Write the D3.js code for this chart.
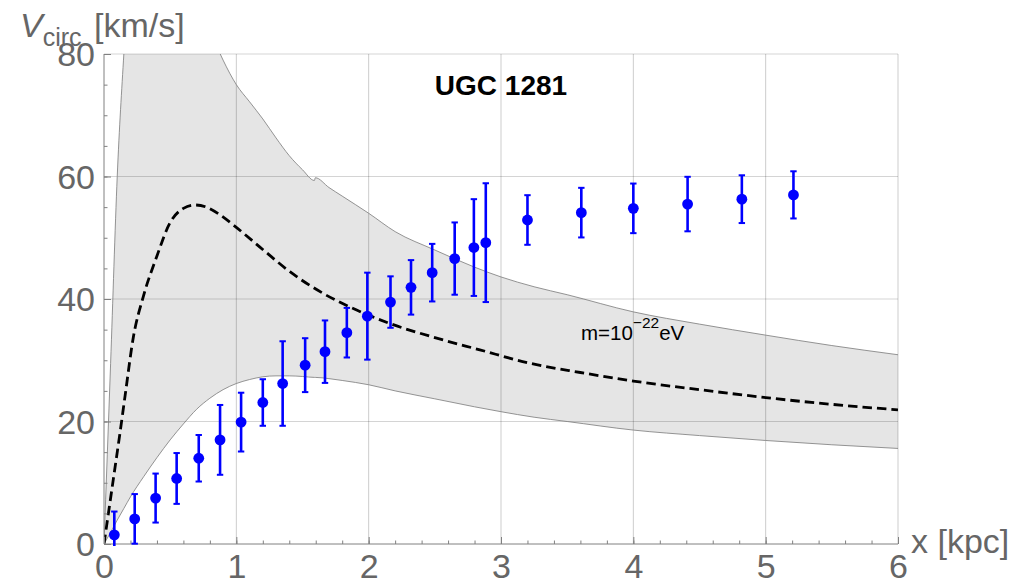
<!DOCTYPE html>
<html>
<head>
<meta charset="utf-8">
<script src="https://cdn.jsdelivr.net/npm/d3@7"></script>
<style>
  html, body { margin: 0; padding: 0; background: #fff; }
  svg { display: block; }
  text { font-family: "Liberation Sans", Arial, sans-serif; }
</style>
</head>
<body>
<svg id="chart" width="1017" height="585"></svg>
<script>
// Axis ticks
const X_TICKS = [0, 1, 2, 3, 4, 5, 6];
const Y_TICKS = [0, 20, 40, 60, 80];

// Observed rotation curve of UGC 1281: radius [kpc], velocity [km/s], error [km/s]
const obsR   = [0.078, 0.232, 0.39, 0.549, 0.716, 0.877, 1.036, 1.2, 1.35, 1.52, 1.67, 1.835, 1.99,
                2.165, 2.32, 2.48, 2.65, 2.795, 2.885, 3.2, 3.607, 4.0, 4.41, 4.82, 5.21];
const obsV   = [1.5, 4.1, 7.5, 10.7, 14.0, 17.0, 19.9, 23.1, 26.2, 29.2, 31.4, 34.5, 37.2,
                39.5, 41.9, 44.3, 46.6, 48.4, 49.2, 52.9, 54.1, 54.8, 55.5, 56.3, 57.0];
const obsErr = [3.8, 4.05, 4.0, 4.15, 3.8, 5.7, 4.8, 3.8, 6.9, 4.4, 5.1, 4.05, 7.1,
                4.2, 4.45, 4.7, 5.9, 7.9, 9.7, 4.05, 4.05, 4.05, 4.45, 3.9, 3.85];

// Soliton model curve for m = 1e-22 eV
const modelR = [0, 0.04, 0.08, 0.12, 0.16, 0.222, 0.297, 0.398, 0.498, 0.6, 0.686, 0.774, 0.88, 0.977,
                1.204, 1.405, 1.657, 1.909, 2.16, 2.5, 2.84, 3.22, 3.6, 4.0, 4.5, 5.0, 5.5, 6.0];
const modelV = [0, 6.0, 12.0, 18.0, 24.3, 33.8, 40.4, 46.9, 52.4, 54.8, 55.35, 55.0, 53.7, 52.1,
                48.0, 44.45, 40.9, 38.2, 36.0, 33.7, 31.7, 29.5, 28.0, 26.6, 25.2, 23.9, 22.8, 21.9];

// Uncertainty band around the model (upper and lower envelopes)
const bandR  = [0, 0.05, 0.1, 0.15, 0.2, 0.3, 0.4, 0.5, 0.6, 0.7, 0.8, 0.9, 1.0, 1.1, 1.2, 1.3, 1.4, 1.5,
                1.59, 1.597, 1.7, 1.8, 2.0, 2.2, 2.5, 2.8, 3.0, 3.25, 3.5, 4.0, 4.5, 5.0, 5.5, 6.0];
const bandHi = [0, 29.5, 60.0, 80.0, 96, 108, 110, 105, 97, 90, 84, 79, 75.0, 72.2, 69.4, 66.3, 63.4, 61.1,
                59.35, 59.8, 58.2, 56.8, 54.0, 51.0, 48.0, 45.2, 43.6, 42.0, 40.7, 37.9, 35.9, 34.1, 32.4, 30.9];
const bandLo = [0, 1.9, 3.9, 5.8, 7.7, 11.0, 14.1, 17.0, 19.6, 22.0, 23.8, 25.2, 26.2, 26.85, 27.3, 27.45, 27.45, 27.35,
                27.2, 27.2, 27.0, 26.7, 26.0, 25.0, 23.7, 22.4, 21.6, 20.7, 20.0, 18.6, 17.7, 16.9, 16.2, 15.6];

const svg = d3.select("#chart");
const plotL = 104, plotR = 898, plotT = 54, plotB = 544;

const x = d3.scaleLinear().domain([0, 6]).range([plotL, plotR]);
const y = d3.scaleLinear().domain([0, 80]).range([plotB, plotT]);

const defs = svg.append("defs");
defs.append("clipPath").attr("id", "plotClip")
  .append("rect").attr("x", plotL).attr("y", plotT).attr("width", plotR - plotL).attr("height", plotB - plotT);
defs.append("clipPath").attr("id", "pointClip")
  .append("rect").attr("x", plotL - 10).attr("y", plotT).attr("width", plotR - plotL + 20).attr("height", plotB - plotT + 2);

// Shaded band
const band = bandR.map((r, i) => ({ r, lo: bandLo[i], hi: bandHi[i] }));
const plot = svg.append("g").attr("clip-path", "url(#plotClip)");
plot.append("path")
  .datum(band)
  .attr("fill", "#e5e5e5")
  .attr("d", d3.area().x(d => x(d.r)).y0(d => y(d.lo)).y1(d => y(d.hi)).curve(d3.curveMonotoneX));

// Grid lines
const grid = svg.append("g");
grid.selectAll("line.gx").data(X_TICKS.filter(t => t > 0)).join("line")
  .attr("x1", d => x(d)).attr("x2", d => x(d)).attr("y1", plotT).attr("y2", plotB)
  .attr("stroke", "rgba(0,0,0,0.2)").attr("stroke-width", 1);
grid.selectAll("line.gy").data(Y_TICKS.filter(t => t > 0)).join("line")
  .attr("y1", d => y(d)).attr("y2", d => y(d)).attr("x1", plotL).attr("x2", plotR)
  .attr("stroke", "rgba(0,0,0,0.17)").attr("stroke-width", 1);

// Band edges
const edges = svg.append("g").attr("clip-path", "url(#plotClip)");
["hi", "lo"].forEach(k => {
  edges.append("path")
    .datum(band)
    .attr("fill", "none")
    .attr("stroke", "#7a7a7a")
    .attr("stroke-width", 0.8)
    .attr("d", d3.line().x(d => x(d.r)).y(d => y(d[k])).curve(d3.curveMonotoneX));
});

// Model curve
edges.append("path")
  .datum(modelR.map((r, i) => [r, modelV[i]]))
  .attr("fill", "none")
  .attr("stroke", "#000")
  .attr("stroke-width", 2.8)
  .attr("stroke-dasharray", "9.5,5")
  .attr("d", d3.line().x(d => x(d[0])).y(d => y(d[1])).curve(d3.curveMonotoneX));

// Axes
const axisColor = "#808080", labelColor = "#666";
const xAxis = svg.append("g").attr("transform", `translate(0,${plotB})`);
xAxis.call(d3.axisBottom(x).ticks(30).tickSize(-3.5).tickFormat(""));
xAxis.selectAll(".tick line").attr("stroke", axisColor);
xAxis.select(".domain").attr("stroke", axisColor).attr("d", `M${plotL},0H${plotR}`);
const xMajor = svg.append("g").attr("transform", `translate(0,${plotB})`)
  .call(d3.axisBottom(x).tickValues(X_TICKS).tickSize(-7).tickFormat(d3.format("d")));
xMajor.select(".domain").remove();
xMajor.selectAll(".tick line").attr("stroke", axisColor);
xMajor.selectAll(".tick text").attr("y", 34).attr("dy", 0)
  .attr("fill", labelColor).style("font-size", "34px").style("font-family", "'Liberation Sans', Arial, sans-serif");

const yAxis = svg.append("g").attr("transform", `translate(${plotL},0)`);
yAxis.call(d3.axisLeft(y).ticks(16).tickSize(-3.5).tickFormat(""));
yAxis.selectAll(".tick line").attr("stroke", axisColor);
yAxis.select(".domain").attr("stroke", axisColor).attr("d", `M0,${plotB}V${plotT}`);
const yMajor = svg.append("g").attr("transform", `translate(${plotL},0)`)
  .call(d3.axisLeft(y).tickValues(Y_TICKS).tickSize(-7).tickFormat(d3.format("d")));
yMajor.select(".domain").remove();
yMajor.selectAll(".tick line").attr("stroke", axisColor);
yMajor.selectAll(".tick text").attr("x", -9).attr("dy", "0.35em")
  .attr("fill", labelColor).style("font-size", "34px").style("font-family", "'Liberation Sans', Arial, sans-serif");

// Observations with error bars
const obs = obsR.map((r, i) => ({ r, v: obsV[i], e: obsErr[i] }));
const pts = svg.append("g").attr("clip-path", "url(#pointClip)");
const blue = "#0000ff";
pts.selectAll("line.bar").data(obs).join("line")
  .attr("x1", d => x(d.r)).attr("x2", d => x(d.r))
  .attr("y1", d => y(d.v - d.e)).attr("y2", d => y(d.v + d.e))
  .attr("stroke", blue).attr("stroke-width", 2.6);
pts.selectAll("line.capTop").data(obs).join("line")
  .attr("x1", d => x(d.r) - 3.2).attr("x2", d => x(d.r) + 3.2)
  .attr("y1", d => y(d.v + d.e)).attr("y2", d => y(d.v + d.e))
  .attr("stroke", blue).attr("stroke-width", 2);
pts.selectAll("line.capBot").data(obs.filter(d => d.v - d.e >= 0)).join("line")
  .attr("x1", d => x(d.r) - 3.2).attr("x2", d => x(d.r) + 3.2)
  .attr("y1", d => y(d.v - d.e)).attr("y2", d => y(d.v - d.e))
  .attr("stroke", blue).attr("stroke-width", 2);
pts.selectAll("circle").data(obs).join("circle")
  .attr("cx", d => x(d.r)).attr("cy", d => y(d.v)).attr("r", 5.4)
  .attr("fill", blue);

// Labels
svg.append("text")
  .attr("x", x(3)).attr("y", 95)
  .attr("text-anchor", "middle")
  .style("font-size", "28px").style("font-weight", "bold").attr("fill", "#000")
  .text("UGC 1281");

const mLabel = svg.append("text").attr("x", 581).attr("y", 340)
  .style("font-size", "20.5px").attr("fill", "#000");
mLabel.append("tspan").text("m=10");
mLabel.append("tspan").attr("dy", -12).style("font-size", "15.5px").text("\u221222");
mLabel.append("tspan").attr("dy", 12).text("eV");

const yTitle = svg.append("text").attr("x", 20).attr("y", 37)
  .style("font-size", "34px").attr("fill", labelColor);
yTitle.append("tspan").style("font-style", "italic").text("V");
yTitle.append("tspan").attr("dy", 9).style("font-size", "25px").text("circ");
yTitle.append("tspan").attr("dy", -9).attr("dx", 3).text(" [km/s]");

svg.append("text").attr("x", 911).attr("y", 553)
  .style("font-size", "34px").attr("fill", labelColor)
  .text("x [kpc]");
</script>
</body>
</html>
